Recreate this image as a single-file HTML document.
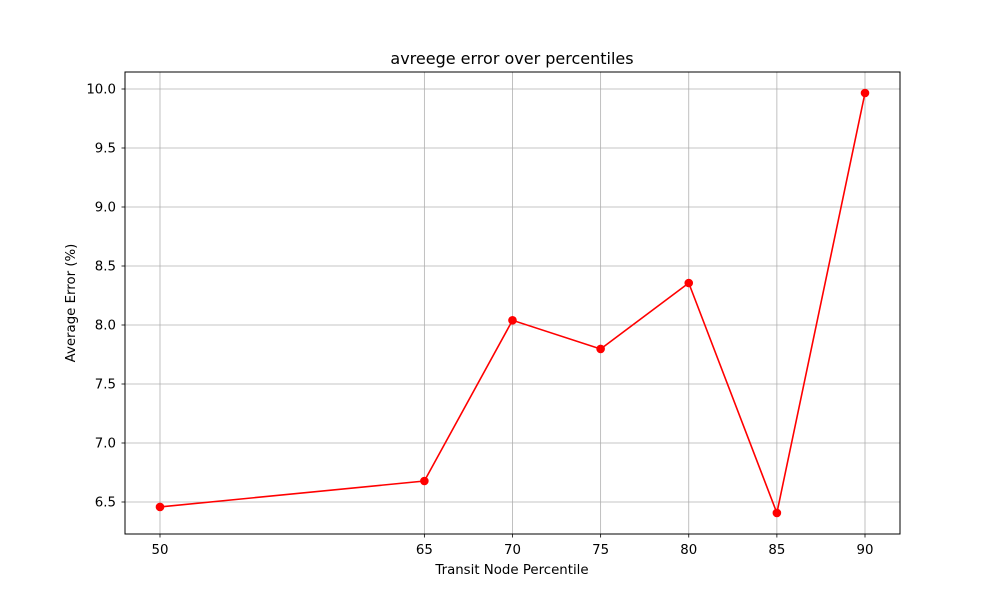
<!DOCTYPE html>
<html><head><meta charset="utf-8"><style>
body{margin:0;background:#fff;}
svg{display:block;font-family:"DejaVu Sans","Liberation Sans",sans-serif;}
</style></head><body>
<svg id="chart" width="1000" height="600" viewBox="0 0 1000 600">
<rect width="1000" height="600" fill="#fff"/>
<text x="512" y="64" text-anchor="middle" font-size="16">avreege error over percentiles</text>
<g id="grid"></g>
<g id="ticks"></g>
<rect x="125" y="72" width="775" height="462" fill="none" stroke="#000" stroke-width="1"/>
<text x="512" y="574" text-anchor="middle" font-size="13.33">Transit Node Percentile</text>
<text transform="translate(75,303) rotate(-90)" text-anchor="middle" font-size="13.33">Average Error (%)</text>
<g id="series"></g>
</svg>
<script>
const categories = [50, 65, 70, 75, 80, 85, 90];
const errorValues = [6.458, 6.678, 8.04, 7.797, 8.356, 6.407, 9.966];
const yTicks = [6.5, 7.0, 7.5, 8.0, 8.5, 9.0, 9.5, 10.0];
const xTickLabels = ["50", "65", "70", "75", "80", "85", "90"];

const NS = "http://www.w3.org/2000/svg";
function xScale(v){ return 160 + (v - 50) * (705 / 40); }
function yScale(v){ return 502 - (v - 6.5) * (59 / 0.5); }
function mk(tag, attrs, parent){ const e = document.createElementNS(NS, tag); for (const k in attrs) e.setAttribute(k, attrs[k]); parent.appendChild(e); return e; }

const grid = document.getElementById("grid"), ticks = document.getElementById("ticks"), series = document.getElementById("series");

yTicks.forEach(t => {
  const y = yScale(t);
  const g = mk("line", {x1:125, x2:900, y1:y, y2:y, stroke:"#b0b0b0", "stroke-width":0.8}, grid);
  
  
  const tk = mk("line", {x1:121.5, x2:125, y1:y, y2:y, stroke:"#000", "stroke-width":0.8}, ticks);
  
  
  const lb = mk("text", {x:116, y:y + 4.5, "text-anchor":"end", "font-size":13.33}, ticks);
  lb.textContent = t.toFixed(1);
  
  
});

categories.forEach((c, i) => {
  const x = xScale(c);
  const g = mk("line", {x1:x, x2:x, y1:72, y2:534, stroke:"#b0b0b0", "stroke-width":0.8}, grid);
  
  
  const tk = mk("line", {x1:x, x2:x, y1:534, y2:537.5, stroke:"#000", "stroke-width":0.8}, ticks);
  
  
  const lb = mk("text", {x:x, y:554, "text-anchor":"middle", "font-size":13.33}, ticks);
  lb.textContent = xTickLabels[i];
  
  
});

const pts = categories.map((c, i) => xScale(c) + "," + yScale(errorValues[i])).join(" ");
const line = mk("polyline", {points:pts, fill:"none", stroke:"#ff0000", "stroke-width":1.6}, series);


categories.forEach((c, i) => {
  const p = mk("circle", {cx:xScale(c), cy:yScale(errorValues[i]), r:4.3, fill:"#ff0000"}, series);
  
  
});
</script>
</body></html>
